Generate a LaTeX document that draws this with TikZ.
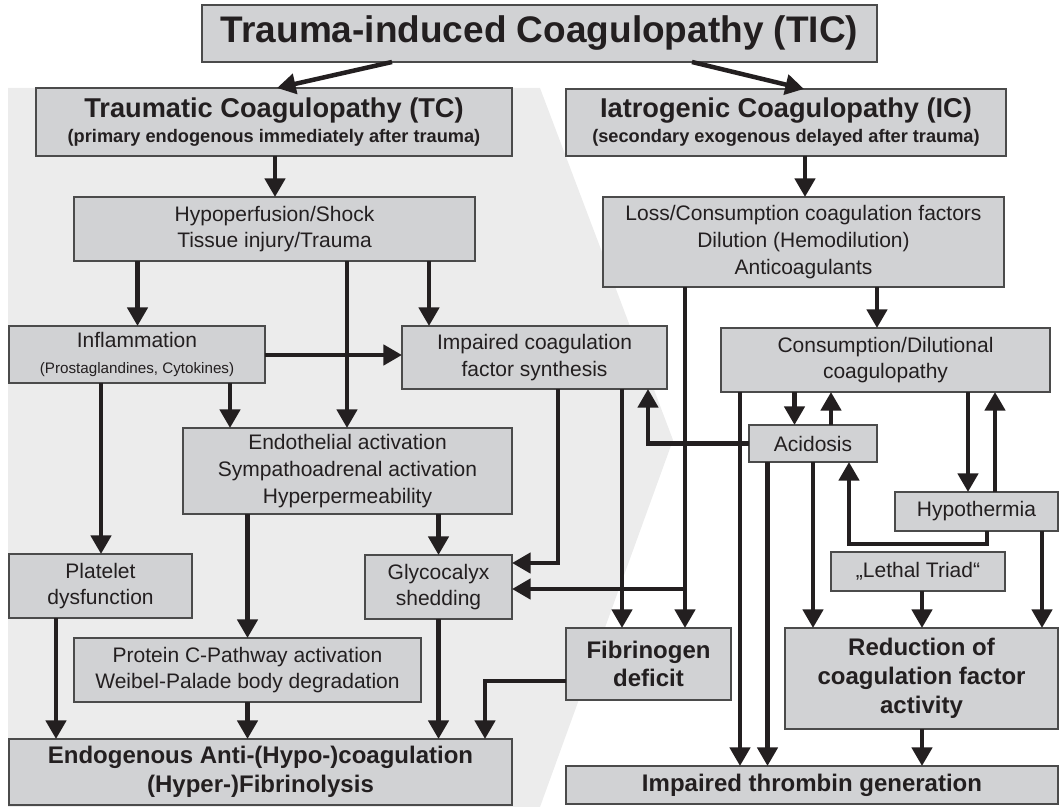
\documentclass[tikz,border=0pt]{standalone}
\usepackage{fontspec}
\setmainfont{Liberation Sans}
\usetikzlibrary{arrows.meta}
\definecolor{boxColor}{RGB}{209,210,212}
\definecolor{inkColor}{RGB}{35,31,32}
\definecolor{frameColor}{RGB}{75,75,75}
\definecolor{shadeColor}{RGB}{236,236,236}
\newcommand{\normalText}{\fontsize{10.5}{13.3}\selectfont}
\newcommand{\smallText}{\fontsize{7.6}{10}\selectfont}
\newcommand{\subText}{\fontsize{9.1}{12.5}\selectfont}
\tikzstyle{flowChart} = [x = .5pt, y = -.5pt]
\tikzstyle{boxStyle} = [draw=frameColor, fill=boxColor, line width=.65pt, inner sep=0pt, outer sep=0pt, align=center, text=inkColor, font=\normalText]
\tikzstyle{headText} = [font=\fontsize{18.5}{21}\selectfont\bfseries]
\tikzstyle{titleText} = [font=\fontsize{13.6}{12.5}\selectfont\bfseries]
\tikzstyle{boldText} = [font=\fontsize{12}{14.4}\selectfont\bfseries]
\tikzstyle{arrowLine} = [draw=inkColor, line width=2.25pt, -{Triangle[length=9.3pt, width=10pt]}]
\newcommand{\flowBox}[7]{\node [boxStyle, #6, minimum width={(#4-#2)*.5pt}, minimum height={(#5-#3)*.5pt}] (#1) at ({(#2+#4)/2},{(#3+#5)/2}) {#7};}
\newcommand{\arrowDown}[3]{\draw [arrowLine] (#1.south -| #3,0) -- (#2.north -| #3,0);}
\newcommand{\arrowUp}[3]{\draw [arrowLine] (#1.north -| #3,0) -- (#2.south -| #3,0);}
\begin{document}
\begin{tikzpicture}[flowChart]
  \useasboundingbox (0,0) rectangle (1060,807);
  \fill [shadeColor] (8,88) -- (540,88) -- (673,440) -- (540,807) -- (8,807) -- cycle;

  % top level
  \flowBox{tic}{202}{5}{877}{62}{headText}{Trauma-induced Coagulopathy (TIC)}
  \flowBox{tc}{36}{88}{512}{156}{titleText}{Traumatic Coagulopathy (TC)\\{\subText(primary endogenous immediately after trauma)}}
  \flowBox{ic}{566}{89}{1006}{156}{titleText}{Iatrogenic Coagulopathy (IC)\\{\subText(secondary exogenous delayed after trauma)}}

  % traumatic side
  \flowBox{hypoperfusion}{74}{197}{475}{261}{}{Hypoperfusion/Shock\\Tissue injury/Trauma}
  \flowBox{inflammation}{9}{326}{265}{383}{}{Inflammation\\{\smallText(Prostaglandines, Cytokines)}}
  \flowBox{synthesis}{402}{326}{667}{389}{}{Impaired coagulation\\factor synthesis}
  \flowBox{endothelial}{183}{428}{512}{514}{}{Endothelial activation\\Sympathoadrenal activation\\Hyperpermeability}
  \flowBox{platelet}{9}{554}{192}{618}{}{Platelet\\dysfunction}
  \flowBox{glycocalyx}{365}{555}{512}{619}{}{Glycocalyx\\shedding}
  \flowBox{proteinC}{74}{638}{421}{702}{}{Protein C-Pathway activation\\Weibel-Palade body degradation}
  \flowBox{fibrinogen}{566}{628}{731}{700}{boldText}{Fibrinogen\\deficit}
  \flowBox{anticoagulation}{9}{739}{512}{805}{boldText}{Endogenous Anti-(Hypo-)coagulation\\(Hyper-)Fibrinolysis}

  % iatrogenic side
  \flowBox{loss}{603}{197}{1004}{287}{}{Loss/Consumption coagulation factors\\Dilution (Hemodilution)\\Anticoagulants}
  \flowBox{dilutional}{721}{328}{1050}{392}{}{Consumption/Dilutional\\coagulopathy}
  \flowBox{acidosis}{749}{425}{877}{462}{}{Acidosis}
  \flowBox{hypothermia}{895}{492}{1058}{531}{}{Hypothermia}
  \flowBox{lethalTriad}{831}{552}{1005}{591}{}{„Lethal Triad“}
  \flowBox{reduction}{785}{628}{1058}{729}{boldText}{Reduction of\\coagulation factor\\activity}
  \flowBox{thrombin}{566}{766}{1058}{804}{boldText}{Impaired thrombin generation}

  % connectors
  \draw [arrowLine] (tic.south -| 392,0) -- (tc.north -| 277,0);
  \draw [arrowLine] (tic.south -| 692,0) -- (ic.north -| 804,0);
  \arrowDown{tc}{hypoperfusion}{275}
  \arrowDown{ic}{loss}{805}
  \arrowDown{hypoperfusion}{inflammation}{137.5}
  \arrowDown{hypoperfusion}{endothelial}{347}
  \arrowDown{hypoperfusion}{synthesis}{429}
  \draw [arrowLine] (inflammation.east |- 0,355) -- (synthesis.west |- 0,355);
  \arrowDown{inflammation}{endothelial}{230}
  \arrowDown{inflammation}{platelet}{101}
  \arrowDown{loss}{dilutional}{877}
  \arrowDown{loss}{fibrinogen}{685}
  \coordinate (lossSplit) at (685,589);
  \draw [arrowLine] (lossSplit) -- (lossSplit -| glycocalyx.east);
  \draw [arrowLine] (synthesis.south -| 558,0) |- (glycocalyx.east |- 0,563);
  \arrowDown{synthesis}{fibrinogen}{622}
  \draw [arrowLine] (acidosis.west) -| (synthesis.south -| 648,0);
  \arrowDown{dilutional}{thrombin}{740}
  \arrowDown{acidosis}{thrombin}{767.5}
  \arrowDown{dilutional}{acidosis}{794.5}
  \arrowUp{acidosis}{dilutional}{831}
  \arrowDown{acidosis}{reduction}{813}
  \arrowDown{dilutional}{hypothermia}{968}
  \arrowUp{hypothermia}{dilutional}{995}
  \draw [arrowLine] (hypothermia.south -| 987,0) -- ++(0,13) -| (acidosis.south -| 849,0);
  \arrowDown{hypothermia}{reduction}{1042}
  \arrowDown{lethalTriad}{reduction}{922}
  \arrowDown{reduction}{thrombin}{922}
  \arrowDown{endothelial}{glycocalyx}{438.5}
  \arrowDown{endothelial}{proteinC}{247.5}
  \arrowDown{platelet}{anticoagulation}{56}
  \arrowDown{proteinC}{anticoagulation}{247.5}
  \arrowDown{glycocalyx}{anticoagulation}{438.5}
  \draw [arrowLine] (fibrinogen.west |- 0,681) -| (anticoagulation.north -| 485,0);
\end{tikzpicture}
\end{document}
